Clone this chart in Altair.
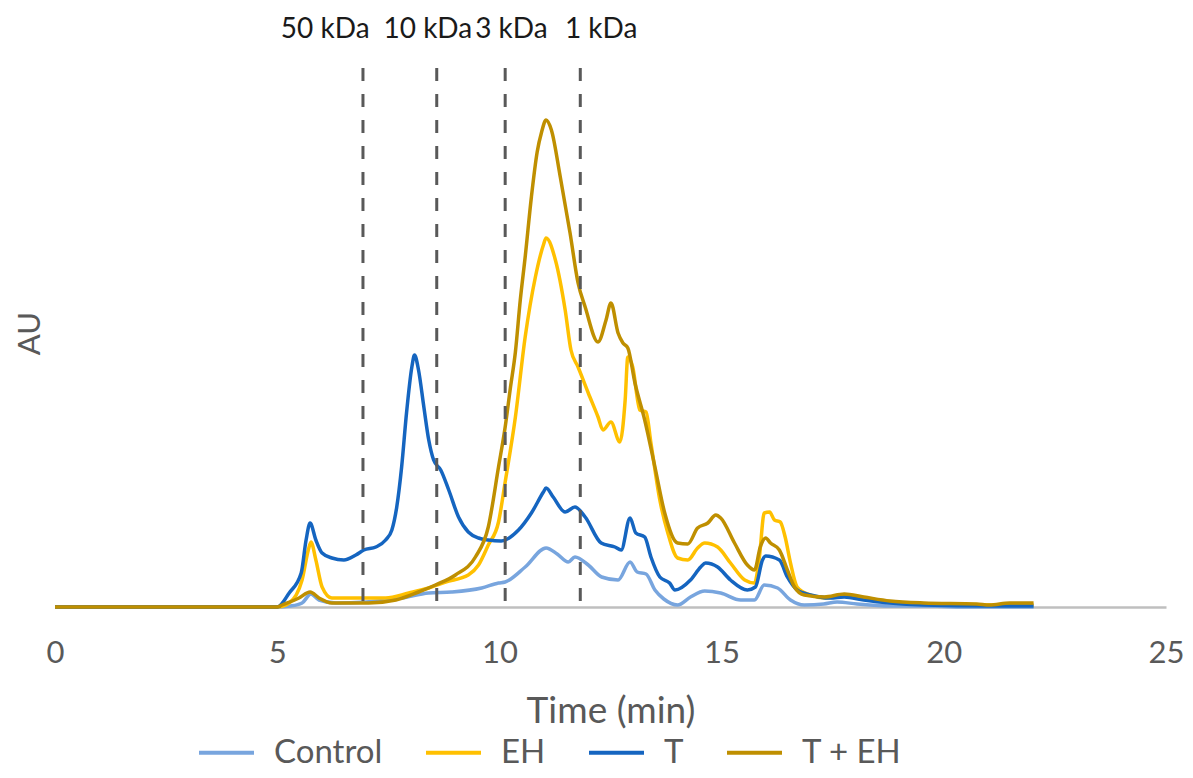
import altair as alt
import pandas as pd

series_names = ["Control", "EH", "T", "T + EH"]
series_colors = ["#78A5DE", "#FFC000", "#1565C0", "#BF8F00"]

control_t = [0, 5.0, 5.3, 5.56, 5.76, 5.94, 6.32, 7.0, 7.8, 8.41, 8.92, 9.6, 9.98, 10.13, 10.58, 11.05, 11.3, 11.55, 11.7, 12.0,
             12.3, 12.67, 12.94, 13.1, 13.3, 13.5, 13.7, 14.01, 14.3, 14.62, 14.98, 15.43, 15.74, 15.96, 16.26, 16.55, 16.86, 17.3, 17.6, 18.05,
             18.8, 19.5, 20.5, 22.02]
control_v = [0, 0, 1, 4, 13, 7, 4, 5, 9, 14, 15, 19, 24, 25, 40, 59, 53, 45, 50, 42,
             30, 27, 45, 35, 33, 17, 8, 2, 10, 16, 14, 7, 7, 22, 19, 7, 2, 3, 5, 3,
             1, 1, 0, 0]

eh_t = [0, 5.0, 5.27, 5.56, 5.7, 5.76, 5.87, 6.01, 6.23, 6.68, 7.44, 7.96, 8.41, 8.79, 9.3, 9.53, 9.75, 9.98, 10.13, 10.36,
        10.58, 10.81, 10.99, 11.05, 11.26, 11.48, 11.61, 11.77, 12.0, 12.22, 12.33, 12.51, 12.71, 12.83, 12.89, 13.0, 13.16, 13.3, 13.41, 13.61,
        13.79, 14.01, 14.24, 14.46, 14.62, 14.91, 15.2, 15.52, 15.74, 15.85, 15.96, 16.08, 16.19, 16.32, 16.43, 16.55, 16.7, 17.0, 17.3, 17.76,
        18.2, 18.79, 19.55, 21.0, 22.02]
eh_v = [0, 0, 4, 27, 57, 65, 47, 20, 9, 9, 9, 14, 19, 25, 32, 42, 62, 85, 125, 190,
        270, 330, 362, 369, 347, 297, 257, 240, 214, 190, 177, 185, 165, 207, 250, 240, 197, 195, 164, 107,
        74, 49, 47, 59, 64, 60, 44, 27, 24, 50, 94, 95, 87, 85, 70, 44, 20, 12, 9, 11,
        8, 5, 3, 2, 2]

t_t = [0, 5.0, 5.27, 5.54, 5.65, 5.74, 5.87, 6.01, 6.23, 6.5, 6.77, 6.95, 7.22, 7.44, 7.58, 7.69, 7.8, 7.91, 8.03, 8.09,
       8.18, 8.3, 8.41, 8.52, 8.68, 8.86, 9.08, 9.3, 9.53, 9.75, 10.04, 10.43, 10.72, 10.99, 11.05, 11.21, 11.48, 11.7, 11.93, 12.29,
       12.6, 12.74, 12.94, 13.07, 13.27, 13.41, 13.61, 13.83, 13.95, 14.3, 14.53, 14.64, 14.91, 15.2, 15.58, 15.76, 15.92, 15.99, 16.3, 16.48,
       16.7, 17.0, 17.44, 17.76, 18.2, 18.79, 19.55, 21.03, 22.02]
t_v = [0, 0, 14, 34, 67, 84, 67, 54, 49, 47, 52, 57, 60, 67, 77, 100, 140, 194, 240, 252,
       237, 200, 167, 147, 137, 117, 90, 75, 69, 67, 66, 77, 94, 115, 119, 110, 95, 100, 90, 64,
       60, 57, 89, 74, 70, 50, 30, 24, 17, 27, 40, 44, 40, 27, 17, 20, 47, 51, 47, 30,
       17, 12, 9, 10, 7, 4, 2, 1, 1]

teh_t = [0, 5.0, 5.11, 5.49, 5.74, 5.94, 6.23, 7.06, 7.67, 8.18, 8.56, 9.01, 9.46, 9.75, 9.98, 10.13, 10.25, 10.36, 10.47, 10.58,
         10.72, 10.85, 10.95, 11.05, 11.17, 11.37, 11.59, 11.77, 11.93, 12.22, 12.4, 12.51, 12.67, 12.78, 12.89, 13.05, 13.27, 13.5, 13.72, 14.01,
         14.24, 14.46, 14.69, 14.87, 14.98, 15.29, 15.58, 15.74, 15.87, 15.99, 16.1, 16.3, 16.48, 16.64, 16.86, 17.31, 17.76, 18.2, 18.79, 19.55,
         20.74, 21.03, 21.48, 22.02]
teh_v = [0, 0, 2, 9, 15, 9, 4, 4, 7, 15, 22, 32, 50, 80, 140, 180, 220, 255, 307, 350,
         410, 455, 475, 487, 477, 430, 374, 324, 300, 265, 287, 304, 274, 264, 259, 224, 187, 140, 94, 64,
         63, 79, 84, 92, 89, 64, 42, 37, 60, 69, 64, 57, 37, 20, 12, 10, 13, 10, 6, 4,
         3, 2, 4, 4]

marker_times = [6.93, 8.59, 10.13, 11.82]
marker_top = 539
label_times = [6.08, 8.39, 10.27, 12.29]
label_texts = ["50 kDa", "10 kDa", "3 kDa", "1 kDa"]
label_level = 577

x_ticks = [0, 5, 10, 15, 20, 25]

rows = []
for name, ts, vs in [("Control", control_t, control_v), ("EH", eh_t, eh_v),
                     ("T", t_t, t_v), ("T + EH", teh_t, teh_v)]:
    for t, v in zip(ts, vs):
        rows.append({"series": name, "time": t, "au": v})
df = pd.DataFrame(rows)

rules_df = pd.DataFrame({"time": marker_times, "au": [marker_top] * len(marker_times), "au2": [0] * len(marker_times)})
labels_df = pd.DataFrame({"time": label_times, "au": [label_level] * len(label_times), "label": label_texts})

FONT = "Lato"
GRAY = "#595959"

x_enc = alt.X("time:Q", scale=alt.Scale(domain=[0, 25], nice=False, zero=False),
              axis=alt.Axis(title="Time (min)", values=x_ticks, grid=False, ticks=False, tickSize=0,
                            domainColor="#BFBFBF", domainWidth=2.5,
                            labelFont=FONT, labelFontSize=31, labelColor=GRAY, labelPadding=46,
                            labelBaseline="middle", labelFlush=False, labelOverlap=False,
                            titleFont=FONT, titleFontSize=37, titleColor=GRAY, titleFontWeight="normal",
                            titleY=104, titleBaseline="middle"))
y_enc = alt.Y("au:Q", scale=alt.Scale(domain=[0, 547], nice=False),
              axis=alt.Axis(title="AU", labels=False, ticks=False, domain=False, grid=False,
                            titleFont=FONT, titleFontSize=31, titleColor=GRAY, titleFontWeight="normal",
                            titleX=-25, titleY=273, titleBaseline="middle", titleAlign="center", titleAngle=270))

lines = alt.Chart(df).mark_line(strokeWidth=3.5, interpolate="monotone").encode(
    x=x_enc,
    y=y_enc,
    color=alt.Color("series:N", scale=alt.Scale(domain=series_names, range=series_colors),
                    legend=alt.Legend(title=None, orient="none", legendX=142, legendY=663,
                                      direction="horizontal", symbolType="stroke", symbolSize=3025,
                                      symbolStrokeWidth=4, labelFont=FONT, labelFontSize=33,
                                      labelColor=GRAY, labelOffset=18, columnPadding=35)),
)

rules = alt.Chart(rules_df).mark_rule(color=GRAY, strokeWidth=3, strokeDash=[13, 13]).encode(
    x="time:Q", y="au:Q", y2="au2:Q"
)

texts = alt.Chart(labels_df).mark_text(font=FONT, fontSize=28, color="#1A1A1A", baseline="middle").encode(
    x="time:Q", y="au:Q", text="label:N"
)

chart = alt.layer(lines, rules, texts).properties(
    width=1111, height=547,
    padding={"left": 47, "top": 52, "right": 19, "bottom": 163},
    autosize=alt.AutoSizeParams(type="none"),
).configure_view(stroke=None)

chart.save("out.html", embed_options={"renderer": "svg", "actions": False})
